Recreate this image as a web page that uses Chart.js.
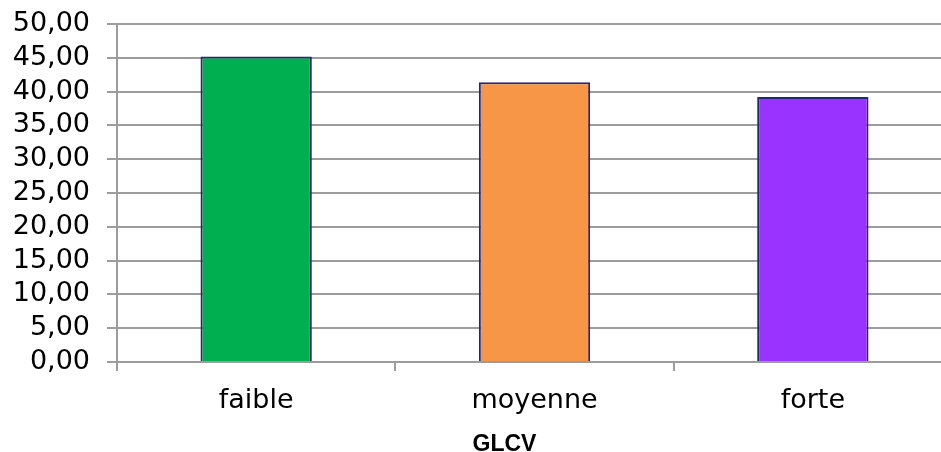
<!DOCTYPE html>
<html>
<head>
<meta charset="utf-8">
<script src="https://cdn.jsdelivr.net/npm/chart.js@4/dist/chart.umd.min.js"></script>
<style>
  html, body { margin: 0; padding: 0; background: #fff; overflow: hidden; }
  #wrap { width: 941px; height: 452px; overflow: hidden; }
</style>
</head>
<body>
<div id="wrap"><canvas id="c" width="955" height="452"></canvas></div>
<script>
// GLCV levels and their mean values
const categories = ['faible', 'moyenne', 'forte'];
const values = [45.2, 41.4, 39.2];
const barColors = ['#00B050', '#F79646', '#9933FF'];
const axisTitle = 'GLCV';

const gridColor = '#9C9C9C';

// Axis caption under the category labels
const captionPlugin = {
  id: 'caption',
  afterDraw(chart) {
    const { ctx, chartArea } = chart;
    ctx.save();
    ctx.font = 'bold 23px "Liberation Sans", Arial, sans-serif';
    ctx.fillStyle = '#000';
    ctx.textAlign = 'center';
    ctx.textBaseline = 'alphabetic';
    ctx.fillText(axisTitle, (chartArea.left + chartArea.right) / 2 - 30, chart.height - 1);
    ctx.restore();
  }
};

new Chart(document.getElementById('c'), {
  type: 'bar',
  data: {
    labels: categories,
    datasets: [{
      data: values,
      backgroundColor: barColors,
      borderColor: '#262676',
      borderWidth: 2,
      categoryPercentage: 0.4,
      barPercentage: 1.0
    }]
  },
  plugins: [captionPlugin],
  options: {
    responsive: false,
    animation: false,
    devicePixelRatio: 1,
    layout: { padding: { top: 24, right: 3, left: 0, bottom: 0 } },
    plugins: { legend: { display: false }, tooltip: { enabled: false } },
    scales: {
      x: {
        afterFit(scale) {
          scale.height = 90;
          scale.paddingLeft = 0;
          scale.paddingRight = 0;
        },
        grid: {
          offset: true,
          drawOnChartArea: false,
          drawTicks: true,
          tickLength: 9,
          color: gridColor,
          lineWidth: 2
        },
        border: { display: true, color: gridColor, width: 2 },
        ticks: {
          color: '#000',
          font: { family: 'DejaVu Sans', size: 27 },
          padding: 14,
          autoSkip: false,
          maxRotation: 0
        }
      },
      y: {
        min: 0,
        max: 50,
        afterFit(scale) {
          scale.width = 117;
          scale.paddingTop = 0;
          scale.paddingBottom = 0;
        },
        grid: {
          drawOnChartArea: true,
          drawTicks: true,
          tickLength: 10,
          color: gridColor,
          lineWidth: 2
        },
        border: { display: true, color: gridColor, width: 2 },
        ticks: {
          stepSize: 5,
          autoSkip: false,
          color: '#000',
          font: { family: 'DejaVu Sans', size: 27 },
          padding: 17,
          callback: v => v.toFixed(2).replace('.', ',')
        }
      }
    }
  }
});
</script>
</body>
</html>
